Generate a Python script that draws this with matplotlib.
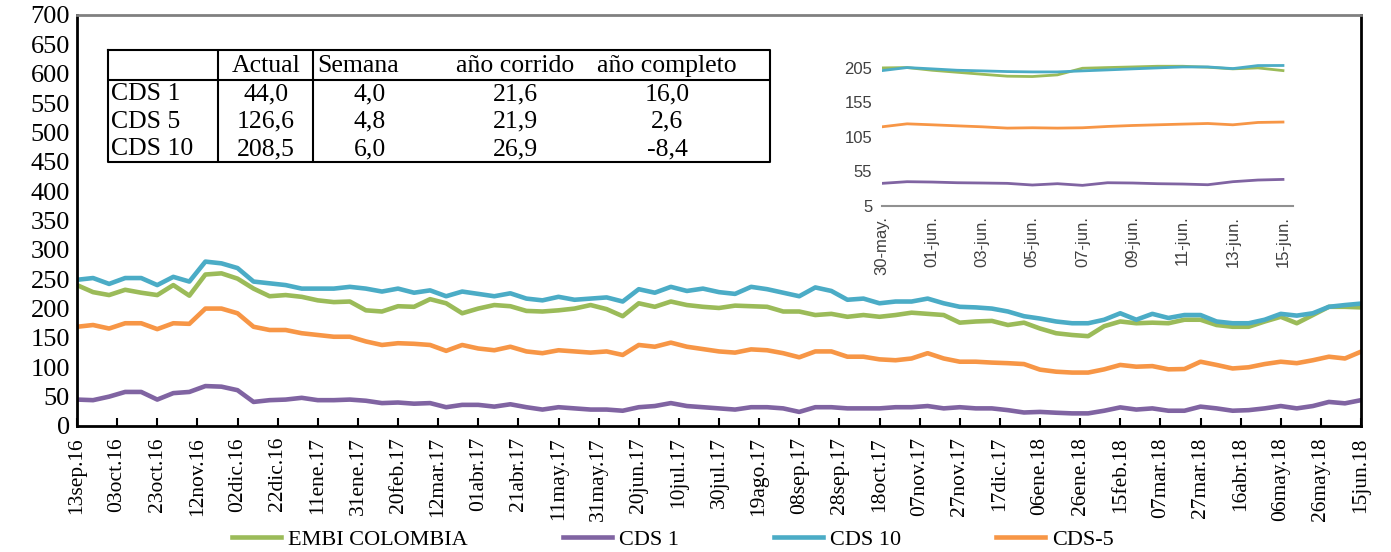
import matplotlib
matplotlib.use("Agg")
import matplotlib.pyplot as plt
import pandas as pd

plt.rcParams['font.family'] = ['Liberation Serif', 'DejaVu Serif']

# series principales, un dato cada 8 dias (13sep16 - 15jun18)
embi = [240, 228, 223, 232, 227, 223, 240, 222, 258, 260, 251, 234, 221, 223, 220, 214, 211, 212, 197, 195,
        204, 203, 216, 209, 192, 200, 206, 204, 196, 195, 197, 200, 206, 199, 187, 209, 203, 212, 206, 203,
        201, 205, 204, 203, 195, 195, 189, 191, 186, 189, 186, 189, 193, 191, 189, 176, 178, 179, 172, 176,
        166, 158, 155, 153, 170, 178, 175, 176, 175, 181, 181, 172, 169, 169, 178, 186, 175, 189, 203, 203, 202]
cds1 = [45, 44, 50, 58, 58, 45, 56, 58, 68, 67, 61, 41, 44, 45, 48, 44, 44, 45, 43, 39,
        40, 38, 39, 32, 36, 36, 33, 37, 32, 28, 32, 30, 28, 28, 26, 32, 34, 39, 34, 32,
        30, 28, 32, 32, 30, 24, 32, 32, 30, 30, 30, 32, 32, 34, 30, 32, 30, 30, 27, 23,
        24, 22.6, 21.5, 21.5, 26, 31.7, 28, 30, 26, 26, 33, 30, 26, 27, 30, 34, 30, 34, 41, 38.6, 44.0]
cds10 = [249, 252, 242, 252, 252, 240, 254, 246, 280, 277, 269, 246, 243, 240, 234, 234, 234, 237, 234, 229,
         234, 227, 231, 221, 229, 225, 221, 226, 217, 214, 220, 215, 217, 219, 212, 233, 227, 237, 230, 234,
         228, 225, 237, 233, 227, 221, 236, 230, 215, 217, 209, 212, 212, 217, 209, 203, 202, 200, 195, 187,
         183, 178, 175, 175, 181, 192, 181, 191, 184, 189, 189, 178, 175, 175, 181, 191, 188, 192, 203, 206, 208.5]
cds5 = [169, 172, 166, 175, 175, 165, 175, 174, 200, 200, 192, 169, 163.5, 163.5, 158, 155, 152, 152, 144, 138,
        141, 140, 138, 128, 138, 132, 129, 135, 127, 124, 129, 127, 125, 127, 121, 138, 135, 142, 135, 131,
        127, 125, 130.5, 129, 124, 117, 127, 127, 118, 118, 113.5, 112, 115, 124, 115, 109.5, 109.5, 108, 107, 105.5,
        96, 92.5, 91, 91, 96.5, 104, 101, 102, 96.5, 97, 109.5, 104, 98, 100, 105.5, 109.5, 107, 112, 118, 115, 126.6]

fechas = pd.date_range("2016-09-13", periods=len(embi), freq="8D")
tick_fechas = pd.date_range("2016-09-13", "2018-06-15", freq="20D")
tick_labels = ["13sep.16", "03oct.16", "23oct.16", "12nov.16", "02dic.16", "22dic.16", "11ene.17",
               "31ene.17", "20feb.17", "12mar.17", "01abr.17", "21abr.17", "11may.17", "31may.17",
               "20jun.17", "10jul.17", "30jul.17", "19ago.17", "08sep.17", "28sep.17", "18oct.17",
               "07nov.17", "27nov.17", "17dic.17", "06ene.18", "26ene.18", "15feb.18", "07mar.18",
               "27mar.18", "16abr.18", "06may.18", "26may.18", "15jun.18"]

# ultimas semanas (recuadro)
zoom_labels = ["30-may.", "01-jun.", "03-jun.", "05-jun.", "07-jun.", "09-jun.", "11-jun.", "13-jun.", "15-jun."]
embi_z = [205.0, 205.5, 201.6, 198.7, 195.8, 193.0, 192.5, 194.9, 204.5, 205.5, 206.4, 207.4, 207.4, 206.0, 203.6, 205.0, 201.1]
cds10_z = [201.1, 205.5, 203.6, 201.6, 200.7, 199.7, 199.2, 199.2, 200.7, 202.1, 203.6, 205.0, 206.4, 206.4, 204.0, 208.4, 208.5]
cds5_z = [119.7, 124.0, 122.6, 121.1, 119.7, 117.8, 118.3, 117.8, 118.3, 120.2, 121.6, 122.6, 123.6, 124.5, 122.6, 126.0, 126.6]
cds1_z = [37.8, 40.2, 39.7, 38.7, 38.3, 37.8, 35.4, 37.3, 34.9, 38.7, 38.3, 37.3, 36.8, 35.8, 40.2, 42.6, 43.5]

# tabla
tabla_cols = ["Actual", "Semana", "año corrido", "año completo"]
tabla_filas = ["CDS 1", "CDS 5", "CDS 10"]
tabla_vals = [["44,0", "4,0", "21,6", "16,0"],
              ["126,6", "4,8", "21,9", "2,6"],
              ["208,5", "6,0", "26,9", "-8,4"]]

c_embi = '#9BBB59'
c_cds1 = '#8064A2'
c_cds10 = '#4BACC6'
c_cds5 = '#F79646'

W, H = 1391, 552
fig = plt.figure(figsize=(W / 100, H / 100), dpi=100)

ax = fig.add_axes([77 / W, 1 - 426 / H, 1284 / W, 411 / H])
ax.plot(fechas, embi, color=c_embi, lw=3.3, label="EMBI COLOMBIA")
ax.plot(fechas, cds1, color=c_cds1, lw=3.3, label="CDS 1")
ax.plot(fechas, cds10, color=c_cds10, lw=3.3, label="CDS 10")
ax.plot(fechas, cds5, color=c_cds5, lw=3.3, label="CDS-5")
ax.set_ylim(0, 700)
ax.set_yticks(range(0, 701, 50))
ax.set_xlim(fechas[0], fechas[-1])
ax.set_xticks(tick_fechas)
ax.set_xticklabels(tick_labels, rotation=90, fontsize=15.5)
ax.tick_params(axis='x', direction='in', length=6, width=1.5, pad=8)
ax.tick_params(axis='y', length=0, labelsize=19, pad=5)
for s in ['left', 'bottom', 'right']:
    ax.spines[s].set_linewidth(2)
    ax.spines[s].set_color('black')
ax.spines['top'].set_color('#808080')
ax.spines['top'].set_linewidth(2)

fig.legend(loc='center', bbox_to_anchor=(673 / W, 0.022), ncol=4, frameon=False,
           fontsize=16, handlelength=2.2, columnspacing=4.3, handletextpad=0.3)

# tabla dibujada a mano
fs_t = 18.5
tx = fig.add_axes([108 / W, 1 - 162 / H, 662 / W, 112 / H])
tx.set_xlim(0, 662)
tx.set_ylim(112, 0)
tx.axis('off')
tx.plot([0, 662, 662, 0, 0], [0, 0, 112, 112, 0], color='black', lw=1.5, clip_on=False)
tx.plot([0, 662], [30, 30], color='black', lw=1.5)
tx.plot([110, 110], [0, 112], color='black', lw=1.5)
tx.plot([205, 205], [0, 112], color='black', lw=1.5)
col_x = [158, 262, 407, 559]
tx.text(158, 16, tabla_cols[0], ha='center', va='center', fontsize=fs_t)
tx.text(209, 16, tabla_cols[1], ha='left', va='center', fontsize=fs_t)
tx.text(407, 16, tabla_cols[2], ha='center', va='center', fontsize=fs_t)
tx.text(559, 16, tabla_cols[3], ha='center', va='center', fontsize=fs_t)
for i, fila in enumerate(tabla_filas):
    yy = 44 + i * 27.5
    tx.text(3, yy, fila, ha='left', va='center', fontsize=fs_t)
    for j, v in enumerate(tabla_vals[i]):
        tx.text(col_x[j], yy, v, ha='center', va='center', fontsize=fs_t)

# recuadro
ix = fig.add_axes([882 / W, 1 - 206 / H, 411 / W, 145 / H])
dias = range(len(embi_z))
ix.plot(dias, embi_z, color=c_embi, lw=2)
ix.plot(dias, cds1_z, color=c_cds1, lw=2)
ix.plot(dias, cds10_z, color=c_cds10, lw=2)
ix.plot(dias, cds5_z, color=c_cds5, lw=2)
ix.set_ylim(5, 215)
ix.set_xlim(0, 16.4)
ix.set_yticks([5, 55, 105, 155, 205])
ix.set_xticks(range(0, 17, 2))
ix.set_xticklabels(zoom_labels, rotation=90)
for lab in ix.get_xticklabels() + ix.get_yticklabels():
    lab.set_family(['Liberation Sans', 'DejaVu Sans'])
    lab.set_fontsize(12)
    lab.set_color('#404040')
ix.tick_params(length=0, pad=7)
for s in ['left', 'top', 'right']:
    ix.spines[s].set_visible(False)
ix.spines['bottom'].set_color('#909090')
ix.spines['bottom'].set_linewidth(1.5)

fig.savefig("out.png", dpi=100)
